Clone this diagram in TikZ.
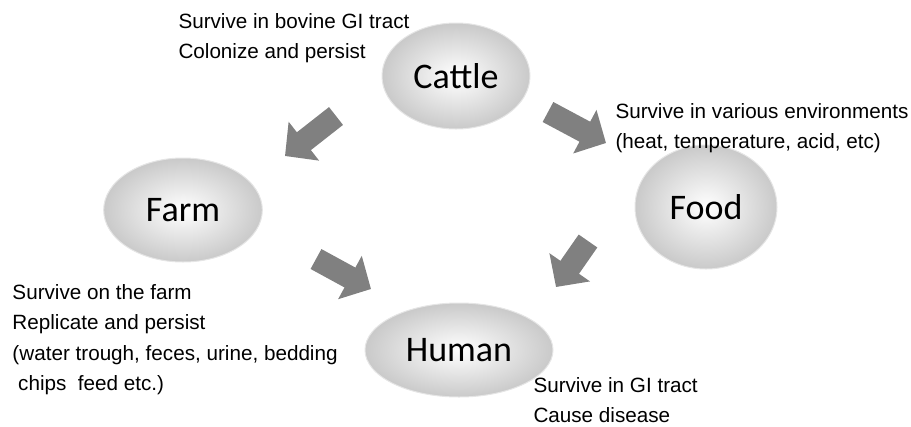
\documentclass[tikz,border=0pt]{standalone}
\usepackage{fontspec}
\setmainfont{Liberation Sans}
\newfontfamily\calibri{Carlito}
\usetikzlibrary{shapes.geometric,arrows.meta}
\definecolor{arrowgray}{RGB}{128,128,128}
\tikzset{every picture/.style={line width=0.75pt}}
\tikzset{
  host/.style={ellipse, inner sep=0pt, shading=radial, inner color=white, outer color=gray!42, draw=gray!20, font=\calibri\fontsize{27}{30}\selectfont},
  note/.style={anchor=north west, inner sep=0pt, align=left, font=\fontsize{15.5}{22.8}\selectfont},
  flow/.style={draw=arrowgray, line width=17pt, -{Triangle[length=18pt,width=36pt]}},
}
\begin{document}
\begin{tikzpicture}[x=0.75pt,y=0.75pt,yscale=-1,xscale=1]
\useasboundingbox (0,0) rectangle (911,426);

% Ellipses
\node [host, minimum width=111pt, minimum height=79.5pt] (cattle) at (456,76) {Cattle};
\node [host, minimum width=119pt, minimum height=78pt] (farm) at (183,210) {Farm};
\node [host, minimum width=106.5pt, minimum height=93pt] (food) at (706,207) {Food};
\node [host, minimum width=141pt, minimum height=70.5pt] (human) at (459,350) {Human};

% Arrow ends
\coordinate (cattlefarmA) at (336,116);
\coordinate (cattlefarmB) at (285,156);
\coordinate (cattlefoodA) at (548,112);
\coordinate (cattlefoodB) at (606,143);
\coordinate (farmhumanA) at (316,259);
\coordinate (farmhumanB) at (371,289);
\coordinate (foodhumanA) at (588,241);
\coordinate (foodhumanB) at (556,287);

% Block arrows
\draw [flow] (cattlefarmA) -- (cattlefarmB);
\draw [flow] (cattlefoodA) -- (cattlefoodB);
\draw [flow] (farmhumanA) -- (farmhumanB);
\draw [flow] (foodhumanA) -- (foodhumanB);

% Text Node
\node [note] (cattletxt) at (178,13) {Survive in bovine GI tract\\Colonize and persist};
% Text Node
\node [note] (foodtxt) at (615,103) {Survive in various environments\\(heat, temperature, acid, etc)};
% Text Node
\node [note] (farmtxt) at (12,284) {Survive on the farm\\Replicate and persist\\(water trough, feces, urine, bedding\\\ chips\ \ feed etc.)};
% Text Node
\node [note] (humantxt) at (533,377) {Survive in GI tract\\Cause disease};

\end{tikzpicture}
\end{document}
